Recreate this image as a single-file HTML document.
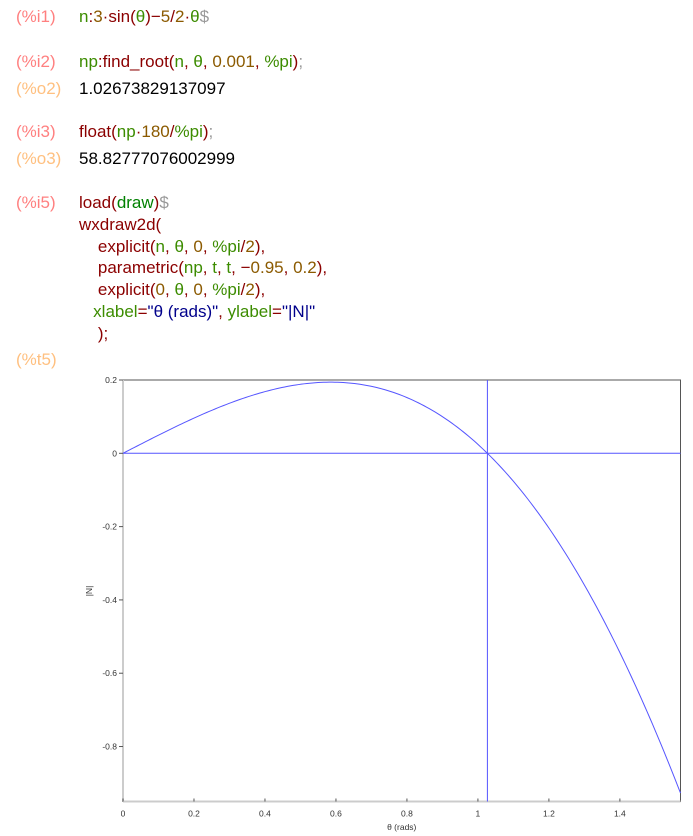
<!DOCTYPE html>
<html><head><meta charset="utf-8"><style>
body{margin:0;width:693px;height:836px;background:#fff;position:relative;overflow:hidden;font-family:"Liberation Sans",sans-serif;}
.l{position:absolute;font-size:17px;white-space:pre;line-height:20px;}
.lab{left:16px;color:#ff8080;}
.out{left:16px;color:#ffc080;}
.c{left:79px;}
.g{color:#3c8c00}.d{color:#8b0000}.b{color:#8b5a00}.p{color:#a0522d}.s{color:#999}.k{color:#000}.bl{color:#00008b}.gg{color:#008000}
</style></head><body>
<div class="l lab" style="top:7px">(%i1)</div>
<div class="l c" style="top:7px"><span class="g">n</span><span class="d">:</span><span class="b">3</span><span class="d">·sin(</span><span class="g">θ</span><span class="d">)−</span><span class="b">5</span><span class="d">/</span><span class="b">2</span><span class="d">·</span><span class="g">θ</span><span class="s">$</span></div>
<div class="l lab" style="top:52px">(%i2)</div>
<div class="l c" style="top:52px"><span class="g">np</span><span class="d">:find_root(</span><span class="g">n</span><span class="d">, </span><span class="g">θ</span><span class="d">, </span><span class="b">0.001</span><span class="d">, </span><span class="g">%pi</span><span class="d">)</span><span class="s">;</span></div>
<div class="l out" style="top:79px">(%o2)</div>
<div class="l c k" style="top:79px">1.02673829137097</div>
<div class="l lab" style="top:122px">(%i3)</div>
<div class="l c" style="top:122px"><span class="d">float(</span><span class="g">np</span><span class="d">·</span><span class="b">180</span><span class="d">/</span><span class="g">%pi</span><span class="d">)</span><span class="s">;</span></div>
<div class="l out" style="top:149px">(%o3)</div>
<div class="l c k" style="top:149px">58.82777076002999</div>
<div class="l lab" style="top:193px">(%i5)</div>
<div class="l c" style="top:192px;line-height:21.8px"><span class="d">load(</span><span class="gg">draw</span><span class="d">)</span><span class="s">$</span>
<span class="d">wxdraw2d(</span>
<span class="d">    explicit(</span><span class="g">n</span><span class="d">, </span><span class="g">θ</span><span class="d">, </span><span class="b">0</span><span class="d">, </span><span class="g">%pi</span><span class="d">/</span><span class="b">2</span><span class="d">),</span>
<span class="d">    parametric(</span><span class="g">np</span><span class="d">, </span><span class="g">t</span><span class="d">, </span><span class="g">t</span><span class="d">, −</span><span class="b">0.95</span><span class="d">, </span><span class="b">0.2</span><span class="d">),</span>
<span class="d">    explicit(</span><span class="b">0</span><span class="d">, </span><span class="g">θ</span><span class="d">, </span><span class="b">0</span><span class="d">, </span><span class="g">%pi</span><span class="d">/</span><span class="b">2</span><span class="d">),</span>
<span class="g">   xlabel</span><span class="d">=</span><span class="bl">"θ (rads)"</span><span class="d">, </span><span class="g">ylabel</span><span class="d">=</span><span class="bl">"|N|"</span>
<span class="d">    );</span></div>
<div class="l out" style="top:350px">(%t5)</div>
<svg id="chart" style="position:absolute;left:0;top:0" width="693" height="836" font-family="Liberation Sans, sans-serif" font-size="8.5" fill="#333"></svg>
<script>
const xTicks=[0,0.2,0.4,0.6,0.8,1,1.2,1.4];
const xTickLabels=["0","0.2","0.4","0.6","0.8","1","1.2","1.4"];
const yTicks=[0.2,0,-0.2,-0.4,-0.6,-0.8];
const yTickLabels=["0.2","0","-0.2","-0.4","-0.6","-0.8"];
const xMin=0,xMax=Math.PI/2,yMin=-0.95,yMax=0.2;
const rootX=[1.02673829137097];
const zeroY=[0];
const L=123,R=680.5,T=380,B=801.5;
const X=v=>L+(v-xMin)/(xMax-xMin)*(R-L);
const Y=v=>T+(yMax-v)/(yMax-yMin)*(B-T);
const svg=document.getElementById('chart');
const NS='http://www.w3.org/2000/svg';
function mk(t,a){const e=document.createElementNS(NS,t);for(const k in a)e.setAttribute(k,a[k]);svg.appendChild(e);return e;}
let e=mk('rect',{x:L,y:T,width:R-L,height:B-T,fill:'none',stroke:'#555','stroke-width':1});


e=mk('line',{x1:L,y1:T,x2:L,y2:B,stroke:'#ccc','stroke-width':2});


e=mk('line',{x1:L,y1:B,x2:R,y2:B,stroke:'#ccc','stroke-width':2});


xTicks.forEach((v,i)=>{
 const t=mk('line',{x1:X(v),y1:B,x2:X(v),y2:B-3,stroke:'#555'});
 
 
 const tx=mk('text',{x:X(v),y:B+15,'text-anchor':'middle'});tx.textContent=xTickLabels[i];
 
 
});
yTicks.forEach((v,i)=>{
 const t=mk('line',{x1:L-4,y1:Y(v),x2:L,y2:Y(v),stroke:'#555'});
 
 
 const tx=mk('text',{x:L-6,y:Y(v)+3,'text-anchor':'end'});tx.textContent=yTickLabels[i];
 
 
});
e=mk('text',{x:(L+R)/2,y:830,'text-anchor':'middle'});e.textContent='θ (rads)';


e=mk('text',{x:92,y:591,'text-anchor':'middle',transform:'rotate(-90 92 591)'});e.textContent='|N|';


const f=x=>3*Math.sin(x)-2.5*x;
let d='';
for(let i=0;i<=200;i++){const x=xMin+(xMax-xMin)*i/200;d+=(i?'L':'M')+X(x).toFixed(2)+' '+Y(f(x)).toFixed(2);}
e=mk('path',{d:d,fill:'none',stroke:'#5555ff','stroke-width':1});


e=mk('line',{x1:X(rootX[0]),y1:Y(-0.95),x2:X(rootX[0]),y2:Y(0.2),stroke:'#5555ff','stroke-width':1});


e=mk('line',{x1:X(xMin),y1:Y(zeroY[0]),x2:X(xMax),y2:Y(zeroY[0]),stroke:'#5555ff','stroke-width':1});


</script>
</body></html>
